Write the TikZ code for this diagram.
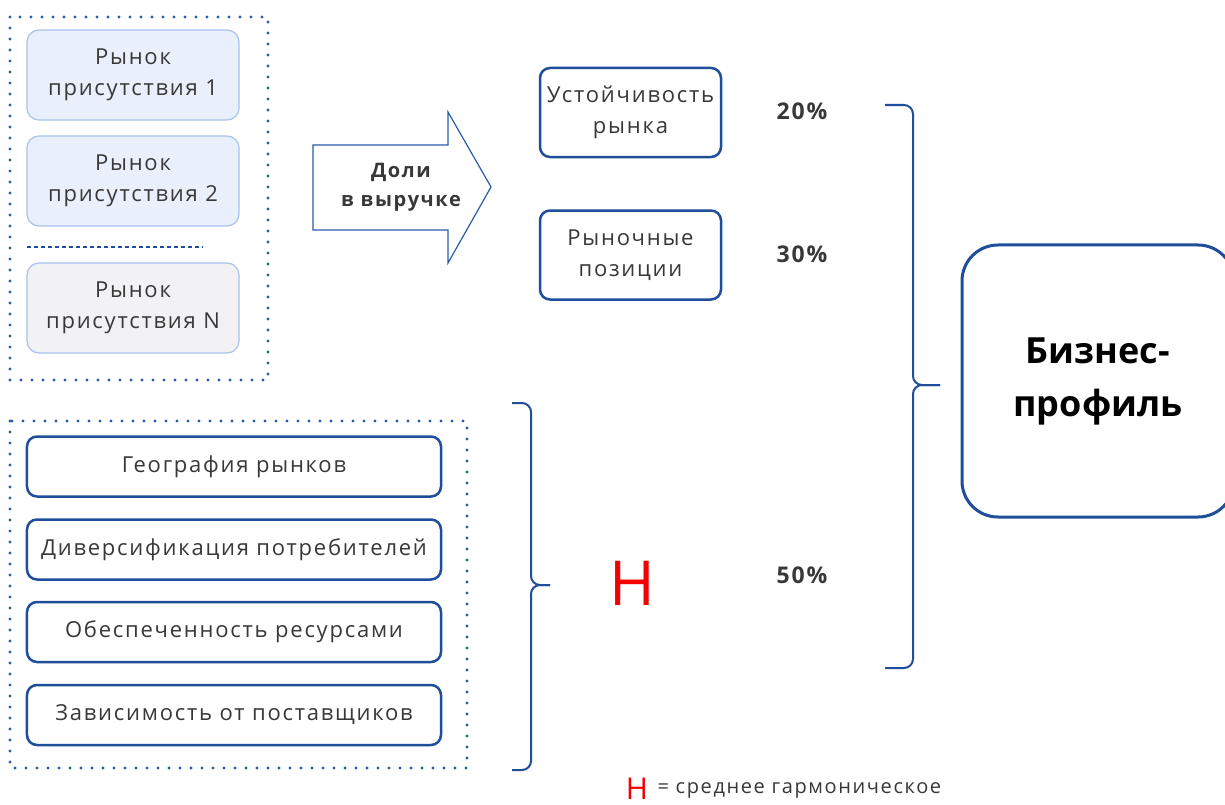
\documentclass[tikz,border=0pt]{standalone}
\usepackage{fontspec}
\setmainfont{Open Sans}
\newfontfamily\widefont{Open Sans}[LetterSpace=8]
\usepackage{xcolor}
\definecolor{darkblue}{HTML}{1F4E9B}
\definecolor{dotblue}{HTML}{2A5CA8}
\definecolor{paleline}{HTML}{A8C2EA}
\definecolor{lightblue}{HTML}{E9F0FB}
\definecolor{lightgray}{HTML}{F2F2F4}
\definecolor{textgray}{HTML}{383838}
\definecolor{hred}{HTML}{F40000}

\begin{document}
\begin{tikzpicture}[x = 1bp, y = -1bp,
	market/.style = {draw = paleline, line width = 1.2bp, rounded corners = 12bp,
		minimum width = 212bp, minimum height = 90bp, align = center, text = textgray,
		font = \widefont\fontsize{22bp}{31bp}\selectfont},
	factor/.style = {draw = darkblue, line width = 2.5bp, rounded corners = 10bp,
		minimum width = 414bp, minimum height = 60bp, text = textgray,
		font = \widefont\fontsize{22bp}{31bp}\selectfont},
	criterion/.style = {factor, minimum width = 181bp, minimum height = 89bp, align = center},
	dotbox/.style = {dotblue, line width = 3.2bp, line cap = round, dash pattern = on 0bp off 11bp},
	bracket/.style = {darkblue, line width = 2bp, rounded corners = 9bp},
	pct/.style = {text = textgray, font = \widefont\fontsize{23bp}{26bp}\selectfont\bfseries}
	]
	\clip (0,0) rectangle (1225,805);
	\fill[white] (0,0) rectangle (1225,805);

	% markets of presence
	\draw[dotbox] (10,17) rectangle (268,380);
	\node[market, fill = lightblue] (mkt1) at (133,75) {Рынок\\присутствия 1};
	\node[market, fill = lightblue] (mkt2) at (133,181) {Рынок\\присутствия 2};
	\node[market, fill = lightgray] (mktN) at (133,308) {Рынок\\присутствия N};
	\draw[darkblue, line width = 1.3bp, dash pattern = on 4bp off 3bp] (27,247) -- (203,247);

	% revenue shares arrow
	\draw[dotblue, line width = 1.2bp] (313,145) -- (448,145) -- (448,112) -- (491,187)
		-- (448,263) -- (448,230) -- (313,230) -- cycle;
	\node[align = center, text = textgray, font = \widefont\fontsize{20bp}{29bp}\selectfont\bfseries]
		(share) at (401,187) {Доли\\в выручке};

	\node[criterion] (stab) at (630.5,112.5) {Устойчивость\\рынка};
	\node[criterion] (posn) at (630.5,255) {Рыночные\\позиции};

	\node[pct] (p20) at (802,111) {20\%};
	\node[pct] (p30) at (802,254) {30\%};
	\node[pct] (p50) at (802,575) {50\%};

	% other factors
	\draw[dotbox] (10,421) rectangle (467,768);
	\node[factor] (geo) at (234,466.5) {География рынков};
	\node[factor] (div) at (234,549.5) {Диверсификация потребителей};
	\node[factor] (res) at (234,632) {Обеспеченность ресурсами};
	\node[factor] (sup) at (234,715) {Зависимость от поставщиков};

	\draw[bracket] (512,403) -- (531,403) -- (531,585) -- (550,585);
	\draw[bracket] (550,585) -- (531,585) -- (531,770) -- (512,770);
	\node[text = hred, font = \fontsize{62bp}{62bp}\selectfont] (hm) at (632,583) {H};

	% business profile
	\draw[bracket] (885,105) -- (913,105) -- (913,385) -- (940,385);
	\draw[bracket] (940,385) -- (913,385) -- (913,668) -- (885,668);
	\node[draw = darkblue, line width = 3bp, rounded corners = 36bp, minimum width = 272bp,
		minimum height = 272bp, align = center, font = \fontsize{36bp}{53bp}\selectfont\bfseries]
		(prof) at (1098,381) {Бизнес-\\профиль};

	\node[text = hred, font = \fontsize{30bp}{30bp}\selectfont] (hkey) at (637,789) {H};
	\node[anchor = west, text = textgray, font = \widefont\fontsize{20bp}{24bp}\selectfont]
		(hdef) at (654,790) {= среднее гармоническое};
\end{tikzpicture}
\end{document}
